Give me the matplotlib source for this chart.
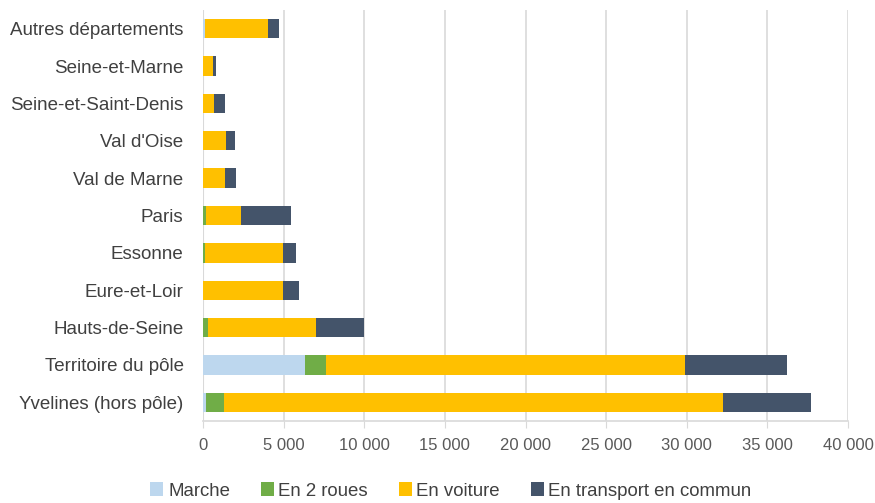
import numpy as np
import matplotlib; matplotlib.use("Agg"); import matplotlib.pyplot as plt
from matplotlib.ticker import FuncFormatter

plt.rcParams["font.family"] = ["Liberation Sans", "DejaVu Sans"]

categories = ["Autres départements", "Seine-et-Marne", "Seine-et-Saint-Denis", "Val d'Oise",
              "Val de Marne", "Paris", "Essonne", "Eure-et-Loir", "Hauts-de-Seine",
              "Territoire du pôle", "Yvelines (hors pôle)"]
marche     = [100,   0,   0,    0,    0,    0,    0,    0,    0,  6340,   210]
deux_roues = [0,     0,   0,    0,    0,  170,  100,    0,  310,  1280,  1090]
voiture    = [3900, 620, 680, 1450, 1390, 2170, 4870, 4970, 6700, 22290, 30950]
transport  = [720,  210, 690,  540,  660, 3140,  810,  980, 2960,  6330,  5480]
series = [("Marche", marche, "#BDD7EE"), ("En 2 roues", deux_roues, "#70AD47"),
          ("En voiture", voiture, "#FFC000"), ("En transport en commun", transport, "#44546A")]

fig = plt.figure(figsize=(8.75, 5.03), dpi=100)
ax = fig.add_axes([203 / 875, 1 - 421 / 503, 645 / 875, 411 / 503])
y = np.arange(len(categories))
left = np.zeros(len(categories))
for name, vals, col in series:
    ax.barh(y, vals, left=left, height=0.52, color=col, label=name, zorder=3)
    left += np.array(vals)

ax.set_ylim(len(categories) - 0.5, -0.5)
ax.set_xlim(0, 40000)
ax.set_xticks(np.arange(0, 40001, 5000))
ax.xaxis.set_major_formatter(FuncFormatter(lambda v, p: f"{int(v):,}".replace(",", " ")))
ax.set_yticks(y)
ax.set_yticklabels(categories)
ax.grid(axis="x", color="#d9d9d9", lw=1.2, zorder=0)
for s in ("top", "right", "left"):
    ax.spines[s].set_visible(False)
ax.spines["bottom"].set_color("#d9d9d9")
ax.spines["bottom"].set_linewidth(1.2)
ax.axvline(0, color="#d9d9d9", lw=1.5, zorder=1)
ax.tick_params(axis="y", length=0, pad=14, labelsize=13.5, labelcolor="#404040")
ax.tick_params(axis="x", length=5, color="#d9d9d9", pad=7, labelsize=12, labelcolor="#595959")
ax.legend(loc="center", bbox_to_anchor=(451 / 875, 1 - 491 / 503), bbox_transform=fig.transFigure,
          ncol=4, frameon=False, fontsize=13.4, handlelength=0.7, handleheight=0.7,
          handletextpad=0.25, columnspacing=1.65, labelcolor="#404040", borderpad=0)
fig.savefig("out.png", dpi=100)
